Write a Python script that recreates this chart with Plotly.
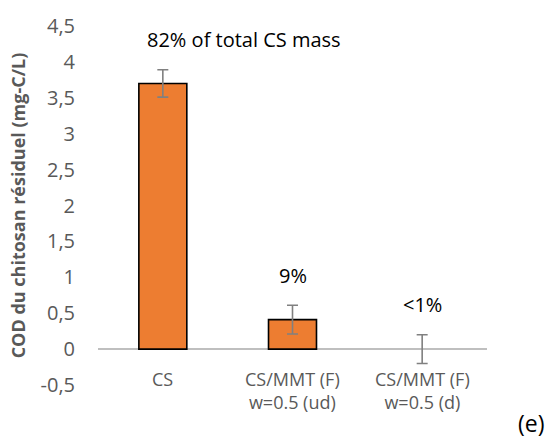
import plotly.graph_objects as go

# Residual chitosan DOC per sample
categories = ["CS", "CS/MMT (F)<br>w=0.5 (ud)", "CS/MMT (F)<br>w=0.5 (d)"]
values = [3.70, 0.41, 0.0]
errors = [0.19, 0.20, 0.20]
mass_labels = ["82% of total CS mass", "9%", "<1%"]
y_ticks = [-0.5, 0, 0.5, 1, 1.5, 2, 2.5, 3, 3.5, 4, 4.5]
y_tick_text = ["-0,5", "0", "0,5", "1", "1,5", "2", "2,5", "3", "3,5", "4", "4,5"]

FONT = "Open Sans, sans-serif"
GREY_TEXT = "#595959"

xs = list(range(len(categories)))
# no outline on a bar of zero height
outline_widths = [1.6 if v != 0 else 0 for v in values]

fig = go.Figure()
fig.add_trace(go.Bar(
    x=xs,
    y=values,
    width=0.37,
    marker=dict(color="#ED7D31", line=dict(color="#000000", width=outline_widths)),
    error_y=dict(type="data", array=errors, visible=True,
                 color="#808080", thickness=1.6, width=5.5),
    showlegend=False,
))

# Percentage-of-mass labels above each error bar
shifts = [(-18, "left"), (0, "center"), (0, "center")]
for x, v, e, txt, (xs_, anchor) in zip(xs, values, errors, mass_labels, shifts):
    fig.add_annotation(x=x, y=v + e, xref="x", yref="y", text=txt,
                       showarrow=False, xanchor=anchor, yanchor="middle",
                       xshift=xs_, yshift=30,
                       font=dict(family=FONT, size=20, color="#000000"))

# Category labels sitting just below the plotting area
for x, cat in zip(xs, categories):
    fig.add_annotation(x=x, y=0, xref="x", yref="paper", text=cat,
                       showarrow=False, xanchor="center", yanchor="top",
                       yshift=20,
                       font=dict(family=FONT, size=18, color=GREY_TEXT))

fig.add_annotation(x=1.113, y=-0.106, xref="paper", yref="paper", text="(e)",
                   showarrow=False, xanchor="center", yanchor="middle",
                   font=dict(family=FONT, size=23, color="#000000"))

fig.update_layout(
    width=549, height=439,
    margin=dict(l=98, r=62, t=17, b=54),
    paper_bgcolor="white", plot_bgcolor="white",
    font=dict(family=FONT, color=GREY_TEXT),
    xaxis=dict(range=[-0.5, 2.5], showticklabels=False, showgrid=False,
               zeroline=False, showline=False, ticks=""),
    yaxis=dict(range=[-0.5, 4.5], tickvals=y_ticks, ticktext=y_tick_text,
               showgrid=False, showline=False,
               zeroline=True, zerolinecolor="#BFBFBF", zerolinewidth=2.2,
               ticks="", ticklabelstandoff=22,
               tickfont=dict(family=FONT, size=20, color=GREY_TEXT),
               title=dict(text="<b>COD du chitosan résiduel (mg-C/L)</b>",
                          font=dict(family=FONT, size=18, color=GREY_TEXT),
                          standoff=10)),
)

fig.write_html("out.html")
